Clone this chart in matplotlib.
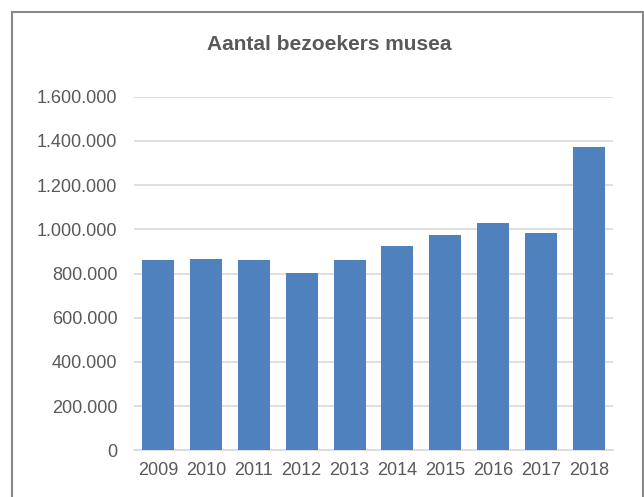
import matplotlib
matplotlib.use("Agg")
import matplotlib.pyplot as plt
from matplotlib.patches import Rectangle
from matplotlib.ticker import FuncFormatter

years = ["2009", "2010", "2011", "2012", "2013", "2014", "2015", "2016", "2017", "2018"]
visitors = [862000, 865000, 860000, 801000, 862000, 923000, 973000, 1027000, 985000, 1374000]
yticks = [0, 200000, 400000, 600000, 800000, 1000000, 1200000, 1400000, 1600000]

plt.rcParams['font.family'] = ['Liberation Sans', 'DejaVu Sans']
text_color = '#595959'

fig = plt.figure(figsize=(6.44, 4.97), dpi=100)
ax = fig.add_axes([134/644, 1-450.4/497, (613-134)/644, (450.4-96.6)/497])

x = list(range(len(years)))
ax.bar(x, visitors, width=0.67, color='#4F81BD', zorder=3)
ax.set_xlim(-0.5, len(years)-0.5)
ax.set_ylim(0, 1600000)
ax.set_yticks(yticks)
ax.yaxis.set_major_formatter(FuncFormatter(lambda v, p: f"{int(v):,}".replace(",", ".")))
ax.set_xticks(x)
ax.set_xticklabels(years)
ax.grid(axis='y', color='#D9D9D9', linewidth=1.2, zorder=0)
for s in ['top', 'right', 'left']:
    ax.spines[s].set_visible(False)
ax.spines['bottom'].set_color('#D9D9D9')
ax.spines['bottom'].set_linewidth(1.2)
ax.tick_params(axis='y', length=0, pad=12, labelsize=13, labelcolor=text_color)
ax.tick_params(axis='x', length=0, pad=8, labelsize=13, labelcolor=text_color)

fig.text(329/644, 1-44/497, "Aantal bezoekers musea", ha='center', va='center',
         fontsize=15, fontweight='bold', color=text_color)

fig.patches.append(Rectangle((12/644, -0.01), (643-12)/644, 1-11.5/497+0.01,
                             transform=fig.transFigure, fill=False,
                             edgecolor='#888888', linewidth=1.5))

fig.savefig("out.png", dpi=100)
